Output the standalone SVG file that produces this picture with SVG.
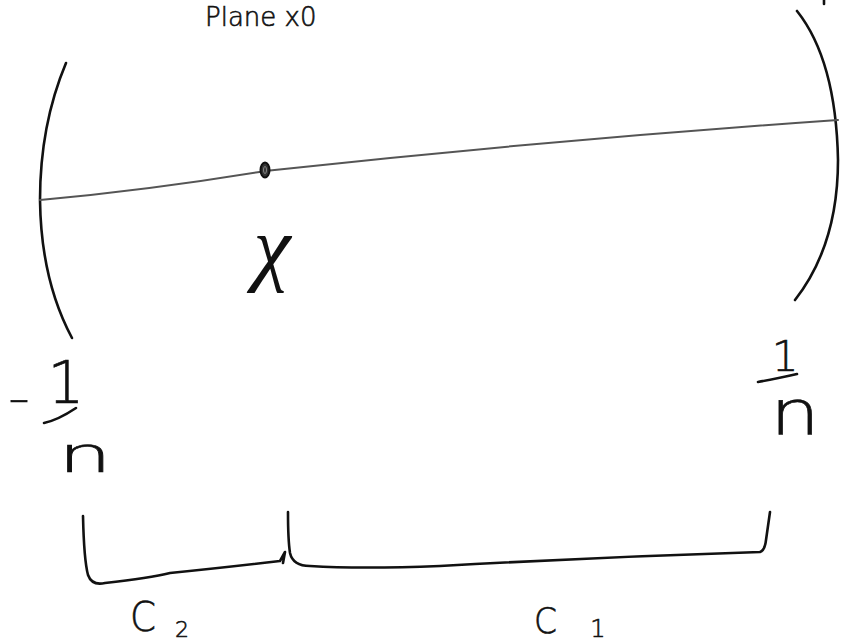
<svg xmlns="http://www.w3.org/2000/svg" width="841" height="643" viewBox="0 0 841 643">
<style>
.ink{fill:none;stroke:#111;stroke-width:2.6;stroke-linecap:round;stroke-linejoin:round}
.gray{fill:none;stroke:#555;stroke-width:2;stroke-linecap:round}
.t{font-family:"DejaVu Sans","Liberation Sans",sans-serif;font-weight:200;fill:#111;stroke:#111;stroke-width:0.6}
.ti{font-family:"Liberation Serif","Times New Roman",serif;font-style:italic;fill:#111}
</style>
<rect width="841" height="643" fill="#fff"/>
<g id="title"><text class="t" x="205" y="26" font-size="26">Plane x0</text></g>
<g id="left-boundary"><path class="ink" d="M66,63 Q40,125 40,200 Q41,280 72,338"/></g>
<g id="right-boundary"><path class="ink" d="M797,11 Q836,60 838,160 Q838,245 795,300"/><path class="ink" d="M824,0 L824,4"/></g>
<g id="connectors">
<path class="gray" d="M40,200 Q150,190 265,171 Q550,140 838,120"/>
</g>
<g id="point-x">
<ellipse cx="265" cy="170" rx="4.5" ry="7.5" fill="#333" stroke="#111" stroke-width="2"/>
<ellipse cx="265" cy="170" rx="1.5" ry="3.5" fill="none" stroke="#888" stroke-width="1"/>
<text class="ti" x="272" y="275" font-size="84" text-anchor="middle">χ</text>
</g>
<g id="label-left">
<text class="t" x="8" y="412" font-size="40" textLength="22" lengthAdjust="spacingAndGlyphs">-</text>
<text class="t" x="66" y="403" font-size="58" text-anchor="middle">1</text>
<path class="ink" d="M44,423 Q58,420 76,408"/>
<text class="t" x="58" y="472" font-size="50" textLength="54" lengthAdjust="spacingAndGlyphs">n</text>
</g>
<g id="label-right">
<text class="t" x="785" y="371" font-size="42" text-anchor="middle">1</text>
<path class="ink" d="M758,382 Q775,379 797,374"/>
<text class="t" x="770" y="435" font-size="62" textLength="50" lengthAdjust="spacingAndGlyphs">n</text>
</g>
<g id="bracket-c2">
<path class="ink" d="M83,516 Q84,560 88,575 Q92,586 105,583 Q150,578 170,573 Q220,568 280,561 L285,552 L283,563" stroke-width="1.8"/>
<text class="t" x="130" y="631" font-size="40" textLength="26" lengthAdjust="spacingAndGlyphs">C</text>
<text class="t" x="175" y="637" font-size="22">2</text>
</g>
<g id="bracket-c1">
<path class="ink" d="M288,512 Q288,540 290,553 Q293,566 310,566 Q360,569 440,566 Q600,557 760,552 Q765,550 766,540 L770,512" stroke-width="1.8"/>
<text class="t" x="534" y="633" font-size="36" textLength="23" lengthAdjust="spacingAndGlyphs">C</text>
<text class="t" x="598" y="637" font-size="24" text-anchor="middle">1</text>
</g>
</svg>
